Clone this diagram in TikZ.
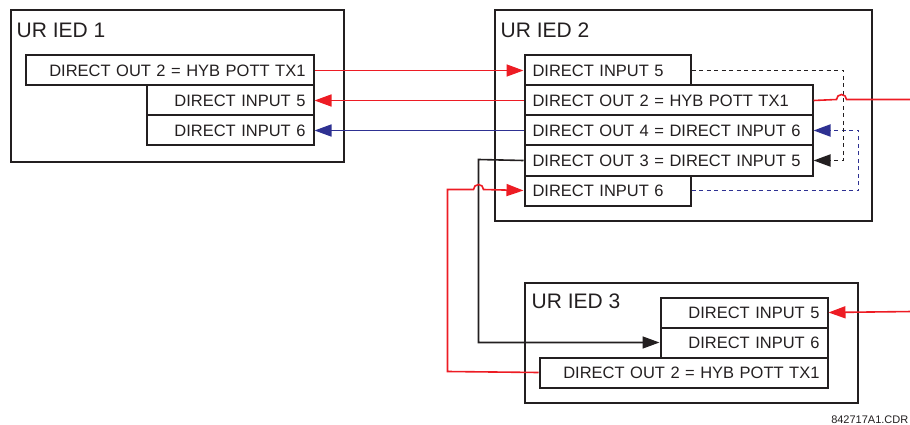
\documentclass[tikz,border=0pt]{standalone}
\usepackage{fontspec}
\setmainfont{Liberation Sans}
\usetikzlibrary{arrows.meta}
\definecolor{ink}{RGB}{35,31,32}
\definecolor{sigred}{RGB}{237,28,36}
\definecolor{sigblue}{RGB}{46,49,146}
\tikzset{
  ied/.style={draw=ink, line width=2pt, rectangle, anchor=north west, inner sep=0pt},
  title/.style={anchor=base west, inner sep=0pt, text=ink, font=\fontsize{21}{24}\selectfont},
  sig/.style={draw=ink, line width=2pt, rectangle, anchor=north west, minimum height=30pt,
     inner xsep=8pt, inner ysep=0pt, text=ink, font=\fontsize{16.5}{18}\selectfont},
  wire/.style={line width=1.6pt},
  tip/.style={-{Triangle[length=17pt,width=12pt]}},
  dotline/.style={dash pattern=on 4pt off 3.5pt, line width=1.9pt}
}
\newcommand{\sigbox}[6]{% name, x, y, width, align, text
  \node[sig, minimum width=#4pt, text width=#4pt-16pt, align=#5] (#1) at (#2,#3) {#6};}
\begin{document}
\begin{tikzpicture}[x=1pt,y=-1pt]
\useasboundingbox (0,0) rectangle (910,425);
\begin{scope}[shift={(0.5,0.5)}]
% IED 1
\node[ied, minimum width=333pt, minimum height=151pt] (ied1) at (9,9) {};
\node[title] (t1) at (16,37) {UR IED 1};
\sigbox{aDOtwo}{24}{54}{288}{right}{DIRECT OUT 2 = HYB POTT TX1}
\sigbox{aDIfive}{145}{84}{167}{right}{DIRECT INPUT 5}
\sigbox{aDIsix}{145}{114}{167}{right}{DIRECT INPUT 6}
% IED 2
\node[ied, minimum width=377pt, minimum height=210pt] (ied2) at (493,9) {};
\node[title] (t2) at (500,37) {UR IED 2};
\sigbox{bDIfive}{523}{54}{166}{left}{DIRECT INPUT 5}
\sigbox{bDOtwo}{523}{84}{288}{left}{DIRECT OUT 2 = HYB POTT TX1}
\sigbox{bDOfour}{523}{114}{288}{left}{DIRECT OUT 4 = DIRECT INPUT 6}
\sigbox{bDOthree}{523}{144}{288}{left}{DIRECT OUT 3 = DIRECT INPUT 5}
\sigbox{bDIsix}{523}{174}{166}{left}{DIRECT INPUT 6}
% IED 3
\node[ied, minimum width=333pt, minimum height=120pt] (ied3) at (523,281) {};
\node[title] (t3) at (531,308) {UR IED 3};
\sigbox{cDIfive}{659}{296}{167}{right}{DIRECT INPUT 5}
\sigbox{cDIsix}{659}{326}{167}{right}{DIRECT INPUT 6}
\sigbox{cDOtwo}{538}{356}{288}{right}{DIRECT OUT 2 = HYB POTT TX1}
% footer
\node[anchor=base east, inner sep=0pt, text=ink, font=\fontsize{11}{12}\selectfont] (code) at (908,423) {842717A1.CDR};
% free ends
\coordinate (outR) at (912,99);
\coordinate (inR) at (912,311);
\coordinate (blk) at (478,159);
\coordinate (redL) at (447,371);
% connectors IED1 <-> IED2
\draw[wire, sigred, tip] (aDOtwo.east) -- (bDIfive.west);
\draw[wire, sigred, tip] (bDOtwo.west) -- (aDIfive.east);
\draw[wire, sigblue, tip] (bDOfour.west) -- (aDIsix.east);
% IED2 internal
\draw[dotline, sigblue, tip] (bDIsix.east) -- ++(167,0) |- (bDOfour.east);
\draw[dotline, ink, tip] (bDIfive.east) -- ++(152,0) |- (bDOthree.east);
% IED2 DO2 out to right with hop
\draw[wire, sigred] (bDOtwo.east) -- (836,99) arc[start angle=180, end angle=0, radius=5pt] -- (outR);
% into IED3
\draw[wire, sigred, tip] (inR) -- (cDIfive.east);
% IED2 DO3 -> IED3 DI6
\draw[wire, ink, tip] (bDOthree.west) -- (blk) |- (cDIsix.west);
% IED3 DO2 -> IED2 DI6 with hop
\draw[wire, sigred, tip] (cDOtwo.west) -- (redL) -- (447,189) -- (473,189) arc[start angle=180, end angle=0, radius=5pt] -- (bDIsix.west);
\end{scope}
\end{tikzpicture}
\end{document}
